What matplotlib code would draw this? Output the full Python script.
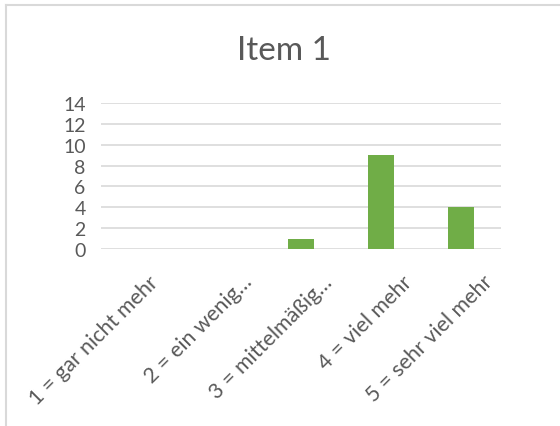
import matplotlib.pyplot as plt
from matplotlib.lines import Line2D
from matplotlib.transforms import ScaledTranslation

kategorien = ['1 = gar nicht mehr', '2 = ein wenig…', '3 = mittelmäßig…',
              '4 = viel mehr', '5 = sehr viel mehr']
werte = [0, 0, 1, 9, 4]
y_ticks = [0, 2, 4, 6, 8, 10, 12, 14]

grau = '#595959'
plt.rcParams['font.family'] = ['Lato', 'DejaVu Sans']

fig = plt.figure(figsize=(5.6, 4.27), dpi=100)
ax = fig.add_axes([101 / 560, 1 - 250 / 427, 400 / 560, 146 / 427])

x = list(range(len(kategorien)))
ax.bar(x, werte, width=0.313, color='#70AD47', zorder=3)

ax.set_xlim(-0.5, len(kategorien) - 0.5)
ax.set_ylim(0, 14)
ax.set_yticks(y_ticks)
ax.set_yticklabels([str(v) for v in y_ticks], fontsize=14, color=grau)
ax.yaxis.grid(True, color='#D9D9D9', linewidth=1.2, zorder=0)
ax.tick_params(axis='both', length=0)
ax.tick_params(axis='y', pad=11)
for s in ax.spines.values():
    s.set_visible(False)

ax.set_xticks(x)
ax.set_xticklabels(kategorien, rotation=45, ha='right', rotation_mode='anchor',
                   fontsize=15.5, color=grau)
ax.tick_params(axis='x', pad=16)
# Excel setzt die gedrehten Beschriftungen nach rechts (die erste weniger)
versatz = [0.07, 0.21, 0.21, 0.21, 0.21]
for lbl, dx in zip(ax.get_xticklabels(), versatz):
    lbl.set_transform(lbl.get_transform() + ScaledTranslation(dx, 0, fig.dpi_scale_trans))

fig.text(284 / 560, 1 - 51 / 427, 'Item 1', ha='center', va='center',
         fontsize=24, color=grau)

# Rahmen oben und links
fig.add_artist(Line2D([6 / 560, 1], [1 - 6 / 427, 1 - 6 / 427],
                      transform=fig.transFigure, color='#D9D9D9', linewidth=1.5))
fig.add_artist(Line2D([6 / 560, 6 / 560], [0, 1 - 6 / 427],
                      transform=fig.transFigure, color='#D9D9D9', linewidth=1.5))

fig.savefig('out.png', dpi=100)
